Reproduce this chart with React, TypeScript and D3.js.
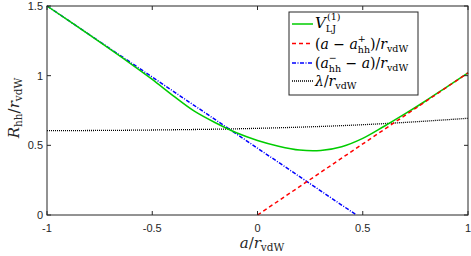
import * as d3 from "d3"

// a / r_vdW sample points and the curves
const aGrid = [-1, -0.8, -0.6, -0.5, -0.4, -0.3, -0.2, -0.1, 0, 0.1, 0.2, 0.3, 0.4, 0.5, 0.6, 0.7, 0.8, 0.9, 1]
const ljValues = [1.5, 1.294, 1.083, 0.973, 0.855, 0.745, 0.662, 0.59, 0.535, 0.494, 0.466, 0.463, 0.49, 0.55, 0.635, 0.725, 0.82, 0.92, 1.02]

const plusA = [0, 1]
const plusValues = [0, 1.02]

const minusA = [-1, 0.47]
const minusValues = [1.5, 0]

const lambdaA = [-1, -0.5, 0, 0.5, 1]
const lambdaValues = [0.605, 0.61, 0.622, 0.648, 0.694]

const xTicks = [-1, -0.5, 0, 0.5, 1]
const yTicks = [0, 0.5, 1, 1.5]

const W = 471
const H = 256
const left = 47
const right = 468
const top = 6
const bottom = 215
const axisColor = "#262626"
const mathFont = "'DejaVu Serif', 'Liberation Serif', serif"
const tickFont = "'Liberation Sans', Arial, sans-serif"

export default function App() {
  const x = d3.scaleLinear().domain([-1, 1]).range([left, right])
  const y = d3.scaleLinear().domain([0, 1.5]).range([bottom, top])

  const line = (xs: number[], ys: number[], curve: d3.CurveFactory = d3.curveLinear) =>
    d3
      .line<number>()
      .x((d) => x(d))
      .y((_, i) => y(ys[i]))
      .curve(curve)(xs) || ""

  const legendX = 289
  const legendY = 12
  const rows = [24, 43.5, 63, 81]
  const sampleX0 = 292
  const sampleX1 = 313
  const textX = 315
  const fs = 14
  const ss = 9.5

  return (
    <svg
      width={W}
      height={H}
      style={{ position: "absolute", left: 0, top: 0, background: "#fff" }}
    >
      {/* curves */}
      <path d={line(lambdaA, lambdaValues, d3.curveMonotoneX)} fill="none" stroke="#000" strokeWidth={1.3} strokeDasharray="1,1" />
      <path d={line(minusA, minusValues)} fill="none" stroke="#0000ff" strokeWidth={1.5} strokeDasharray="4,1.5,1,1.5" />
      <path d={line(aGrid, ljValues, d3.curveCatmullRom)} fill="none" stroke="#00cc00" strokeWidth={1.5} />
      <path d={line(plusA, plusValues)} fill="none" stroke="#ff0000" strokeWidth={1.5} strokeDasharray="4,3" />

      {/* box */}
      <rect x={left} y={top} width={right - left} height={bottom - top} fill="none" stroke={axisColor} strokeWidth={1} />

      {/* ticks */}
      {xTicks.map((t) => (
        <g key={"x" + t}>
          <line x1={x(t)} x2={x(t)} y1={bottom} y2={bottom - 4} stroke={axisColor} />
          <line x1={x(t)} x2={x(t)} y1={top} y2={top + 4} stroke={axisColor} />
          <text x={x(t)} y={232} textAnchor="middle" fontFamily={tickFont} fontSize={11} fill={axisColor}>
            {t}
          </text>
        </g>
      ))}
      {yTicks.map((t) => (
        <g key={"y" + t}>
          <line x1={left} x2={left + 4} y1={y(t)} y2={y(t)} stroke={axisColor} />
          <line x1={right} x2={right - 4} y1={y(t)} y2={y(t)} stroke={axisColor} />
          <text x={43} y={y(t) + 4} textAnchor="end" fontFamily={tickFont} fontSize={11} fill={axisColor}>
            {t}
          </text>
        </g>
      ))}

      {/* axis titles */}
      <text x={262} y={248} textAnchor="middle" fontFamily={mathFont} fontSize={15} fill={axisColor}>
        <tspan fontStyle="italic">a</tspan>
        <tspan>/</tspan>
        <tspan fontStyle="italic">r</tspan>
        <tspan fontSize={10.5} dy={3}>vdW</tspan>
      </text>
      <text
        transform="translate(19,108) rotate(-90)"
        textAnchor="middle"
        fontFamily={mathFont}
        fontSize={15}
        fill={axisColor}
      >
        <tspan fontStyle="italic">R</tspan>
        <tspan fontSize={10.5} dy={3}>hh</tspan>
        <tspan dy={-3}>/</tspan>
        <tspan fontStyle="italic">r</tspan>
        <tspan fontSize={10.5} dy={3}>vdW</tspan>
      </text>

      {/* legend */}
      <rect x={legendX} y={legendY} width={129} height={83} fill="#fff" stroke={axisColor} strokeWidth={1} />
      <line x1={sampleX0} x2={sampleX1} y1={rows[0]} y2={rows[0]} stroke="#00cc00" strokeWidth={1.5} />
      <line x1={sampleX0} x2={sampleX1} y1={rows[1]} y2={rows[1]} stroke="#ff0000" strokeWidth={1.5} strokeDasharray="4,3" />
      <line x1={sampleX0} x2={sampleX1} y1={rows[2]} y2={rows[2]} stroke="#0000ff" strokeWidth={1.5} strokeDasharray="4,1.5,1,1.5" />
      <line x1={sampleX0} x2={sampleX1} y1={rows[3]} y2={rows[3]} stroke="#000" strokeWidth={1.3} strokeDasharray="1,1" />

      <text x={textX} y={rows[0] + 4} fontFamily={mathFont} fontSize={15} fill="#000">
        <tspan fontStyle="italic">V</tspan>
        <tspan fontSize={ss} dy={4}>LJ</tspan>
        <tspan fontSize={ss} dx={-9} dy={-12}>(1)</tspan>
      </text>
      <text x={textX} y={rows[1] + 5} fontFamily={mathFont} fontSize={fs} fill="#000">
        <tspan>(</tspan>
        <tspan fontStyle="italic">a</tspan>
        <tspan> − </tspan>
        <tspan fontStyle="italic">a</tspan>
        <tspan fontSize={ss} dy={-7}>+</tspan>
        <tspan fontSize={ss} dx={-8} dy={11}>hh</tspan>
        <tspan dy={-4}>)/</tspan>
        <tspan fontStyle="italic">r</tspan>
        <tspan fontSize={ss} dy={3}>vdW</tspan>
      </text>
      <text x={textX} y={rows[2] + 5} fontFamily={mathFont} fontSize={fs} fill="#000">
        <tspan>(</tspan>
        <tspan fontStyle="italic">a</tspan>
        <tspan fontSize={ss} dy={-7}>−</tspan>
        <tspan fontSize={ss} dx={-8} dy={11}>hh</tspan>
        <tspan dy={-4}> − </tspan>
        <tspan fontStyle="italic">a</tspan>
        <tspan>)/</tspan>
        <tspan fontStyle="italic">r</tspan>
        <tspan fontSize={ss} dy={3}>vdW</tspan>
      </text>
      <text x={textX} y={rows[3] + 5} fontFamily={mathFont} fontSize={fs} fill="#000">
        <tspan fontStyle="italic">λ</tspan>
        <tspan>/</tspan>
        <tspan fontStyle="italic">r</tspan>
        <tspan fontSize={ss} dy={3}>vdW</tspan>
      </text>
    </svg>
  )
}
